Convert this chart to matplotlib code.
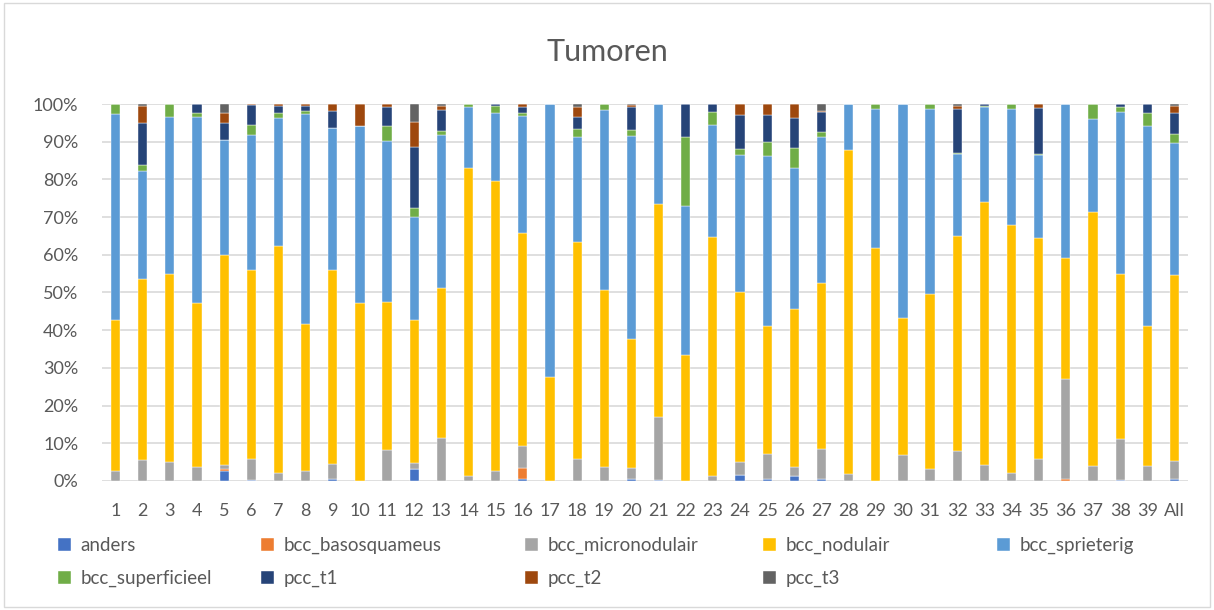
import numpy as np
import matplotlib
matplotlib.use("Agg")
import matplotlib.pyplot as plt
from matplotlib.patches import Rectangle
from matplotlib.ticker import PercentFormatter

plt.rcParams['font.family'] = ['Lato', 'DejaVu Sans']

# ------------------------------------------------------------
# data (share in % per group)
# ------------------------------------------------------------
groups = [str(i) for i in range(1, 40)] + ["All"]

anders = [0, 0, 0, 0, 2.6, 0.3, 0, 0, 0.4, 0,
          0, 3.2, 0, 0, 0, 0.4, 0, 0, 0, 0.6,
          0.3, 0, 0, 1.7, 0.6, 1.2, 0.5, 0, 0, 0,
          0, 0, 0, 0, 0, 0, 0, 0.2, 0, 0.6]
bcc_basosquameus = [0, 0, 0, 0, 0.6, 0, 0, 0, 0, 0,
                    0, 0, 0, 0, 0, 3.0, 0, 0, 0, 0,
                    0, 0, 0, 0, 0, 0, 0, 0, 0, 0,
                    0, 0, 0, 0, 0, 0.5, 0, 0, 0, 0]
bcc_micronodulair = [2.7, 5.6, 5.1, 3.6, 1.0, 5.6, 2.1, 2.7, 4.0, 0,
                     8.2, 1.5, 11.5, 1.2, 2.7, 6.0, 0, 5.8, 3.6, 2.8,
                     16.7, 0, 1.2, 3.3, 6.6, 2.4, 8.1, 1.9, 0, 7.0,
                     3.2, 7.9, 4.2, 2.2, 5.8, 26.6, 3.9, 11.0, 4.1, 4.8]
bcc_nodulair = [40.0, 47.9, 49.8, 43.7, 55.7, 50.1, 60.3, 38.9, 51.5, 47.1,
                39.3, 38.0, 39.8, 81.8, 76.9, 56.3, 27.7, 57.6, 47.0, 34.2,
                56.6, 33.4, 63.6, 45.2, 33.9, 42.0, 43.9, 85.9, 61.8, 36.2,
                46.3, 57.1, 69.9, 65.6, 58.7, 32.0, 67.5, 43.8, 37.0, 49.2]
bcc_sprieterig = [54.6, 28.8, 41.6, 49.3, 30.5, 35.7, 33.8, 55.7, 37.7, 47.0,
                  42.7, 27.2, 40.5, 16.1, 18.0, 31.2, 72.3, 27.8, 47.9, 54.0,
                  26.4, 39.6, 29.6, 36.3, 45.2, 37.4, 38.7, 12.2, 37.0, 56.8,
                  49.3, 21.7, 25.0, 31.0, 22.1, 40.9, 24.5, 42.8, 53.0, 35.1]
bcc_superficieel = [2.7, 1.5, 3.5, 0.9, 0, 2.7, 1.4, 0.9, 0, 0,
                    4.0, 2.6, 1.0, 0.9, 2.0, 0.8, 0, 2.2, 1.5, 1.5,
                    0, 18.2, 3.4, 1.5, 3.7, 5.2, 1.5, 0, 1.2, 0,
                    1.2, 0.2, 0.4, 1.2, 0.2, 0, 4.1, 1.3, 3.5, 2.3]
pcc_t1 = [0, 11.1, 0, 2.5, 4.6, 5.3, 2.0, 1.4, 4.5, 0,
          4.9, 16.2, 5.7, 0, 0.4, 1.4, 0, 3.2, 0, 6.0,
          0, 8.8, 2.2, 9.2, 7.2, 8.0, 5.3, 0, 0, 0,
          0, 11.7, 0.5, 0, 12.2, 0, 0, 0.9, 2.4, 5.7]
pcc_t2 = [0, 4.7, 0, 0, 2.6, 0.3, 0.4, 0.4, 1.9, 5.9,
          0.9, 6.6, 0.9, 0, 0, 0.9, 0, 2.7, 0, 0.6,
          0, 0, 0, 2.8, 2.8, 3.8, 0.2, 0, 0, 0,
          0, 0.9, 0, 0, 1.0, 0, 0, 0, 0, 1.8]
pcc_t3 = [0, 0.4, 0, 0, 2.4, 0, 0, 0, 0, 0,
          0, 4.7, 0.6, 0, 0, 0, 0, 0.7, 0, 0.3,
          0, 0, 0, 0, 0, 0, 1.8, 0, 0, 0,
          0, 0.5, 0, 0, 0, 0, 0, 0, 0, 0.5]

series_names = ["anders", "bcc_basosquameus", "bcc_micronodulair", "bcc_nodulair",
                "bcc_sprieterig", "bcc_superficieel", "pcc_t1", "pcc_t2", "pcc_t3"]
series_values = [anders, bcc_basosquameus, bcc_micronodulair, bcc_nodulair,
                 bcc_sprieterig, bcc_superficieel, pcc_t1, pcc_t2, pcc_t3]
colors = ["#4472C4", "#ED7D31", "#A5A5A5", "#FFC000", "#5B9BD5",
          "#70AD47", "#264478", "#9E480E", "#636363"]

# ------------------------------------------------------------
# 100% stacked bars
# ------------------------------------------------------------
data = np.array(series_values, dtype=float)
share = data / data.sum(axis=0)

fig = plt.figure(figsize=(12.14, 6.1), dpi=100)
ax = fig.add_axes([0.084, 0.2115, 0.8946, 0.618])

x = np.arange(len(groups))
bottom = np.zeros(len(groups))
handles = []
for name, vals, col in zip(series_names, share, colors):
    b = ax.bar(x, vals, 0.34, bottom=bottom, color=col, label=name,
               edgecolor="white", linewidth=0.3, zorder=3)
    handles.append(b)
    bottom += vals

ax.set_xlim(-0.5, len(groups) - 0.5)
ax.set_ylim(0, 1)
ax.set_yticks(np.arange(0, 1.01, 0.1))
ax.yaxis.set_major_formatter(PercentFormatter(1.0, decimals=0))
ax.set_xticks(x)
ax.set_xticklabels(groups)
ax.tick_params(axis="both", length=0, labelsize=13, colors="#595959")
ax.tick_params(axis="y", pad=17)
ax.tick_params(axis="x", pad=16)
ax.grid(axis="y", color="#d9d9d9", linewidth=1.2, zorder=0)
for s in ax.spines.values():
    s.set_visible(False)

fig.text(0.5, 0.915, "Tumoren", ha="center", va="center", fontsize=22, color="#595959")

# legend: 5 columns, two rows, one small legend per column
col_x = [58, 261, 525, 763, 997]
for c, px in enumerate(col_x):
    idx = [i for i in (c, c + 5) if i < len(series_names)]
    leg = fig.legend([handles[i] for i in idx], [series_names[i] for i in idx],
                     loc="upper left", bbox_to_anchor=(px / 1214, 1 - 537 / 610),
                     frameon=False, fontsize=13.5, handlelength=0.7, handleheight=0.7,
                     handletextpad=0.5, labelspacing=0.85, borderpad=0, borderaxespad=0)
    for t in leg.get_texts():
        t.set_color("#595959")

# chart frame
fig.patches.append(Rectangle((0.003, 0.005), 0.994, 0.99, transform=fig.transFigure,
                             fill=False, edgecolor="#d9d9d9", linewidth=1))

fig.savefig("out.png", dpi=100)
